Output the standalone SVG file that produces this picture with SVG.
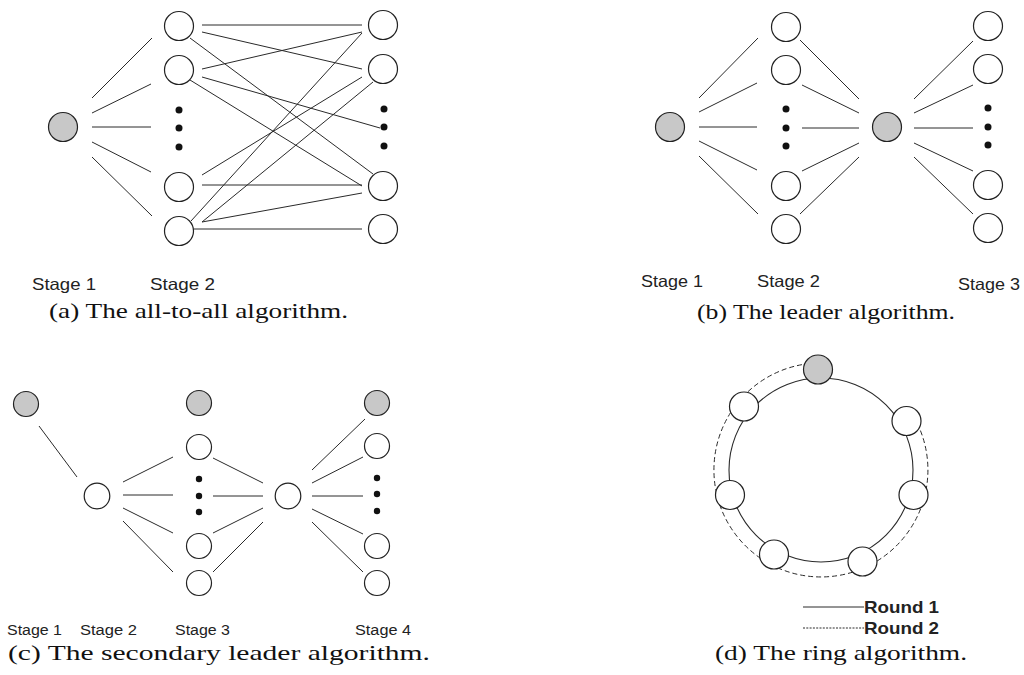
<svg xmlns="http://www.w3.org/2000/svg" width="1024" height="675" viewBox="0 0 1024 675">
  <style>
    .bg { fill: #ffffff; }
    .edge { stroke: #2a2a2a; stroke-width: 1; fill: none; }
    .node { fill: #ffffff; stroke: #222222; stroke-width: 1.2; }
    .lead { fill: #c8c8c8; stroke: #222222; stroke-width: 1.2; }
    .dot { fill: #111111; }
    .stage { font-family: "Liberation Sans", Arial, sans-serif; font-size: 16.5px; fill: #222222; }
    .stage-c { font-family: "Liberation Sans", Arial, sans-serif; font-size: 15.5px; fill: #222222; }
    .cap { font-family: "Liberation Serif", "Times New Roman", serif; font-size: 21px; fill: #111111; }
    .legend { font-family: "Liberation Sans", Arial, sans-serif; font-size: 16.5px; font-weight: bold; fill: #222222; }
    .ring-solid { stroke: #2a2a2a; stroke-width: 1.1; fill: none; }
    .ring-dash { stroke: #2a2a2a; stroke-width: 1; fill: none; stroke-dasharray: 5 3; }
    .legend-dot { stroke: #2a2a2a; stroke-width: 1; fill: none; stroke-dasharray: 2 1.3; }
  </style>
  <rect class="bg" x="0" y="0" width="1024" height="675"/>

  <!-- ===== (a) all-to-all ===== -->
  <g id="a-connectors">
    <line class="edge" x1="92" y1="98" x2="152" y2="38"/>
    <line class="edge" x1="92" y1="113" x2="151" y2="84"/>
    <line class="edge" x1="92" y1="127" x2="151" y2="127"/>
    <line class="edge" x1="92" y1="142" x2="151" y2="172"/>
    <line class="edge" x1="92" y1="157" x2="152" y2="216"/>

    <line class="edge" x1="202" y1="25" x2="362" y2="25"/>
    <line class="edge" x1="202" y1="32" x2="362" y2="69"/>
    <line class="edge" x1="190" y1="38" x2="373" y2="174"/>
    <line class="edge" x1="202" y1="69" x2="362" y2="32"/>
    <line class="edge" x1="202" y1="77" x2="380" y2="128"/>
    <line class="edge" x1="190" y1="80" x2="362" y2="186"/>
    <line class="edge" x1="202" y1="175" x2="362" y2="77"/>
    <line class="edge" x1="202" y1="185" x2="362" y2="185"/>
    <line class="edge" x1="191" y1="221" x2="362" y2="33"/>
    <line class="edge" x1="202" y1="222" x2="373" y2="82"/>
    <line class="edge" x1="202" y1="222" x2="362" y2="193"/>
    <line class="edge" x1="194" y1="229" x2="362" y2="229"/>
  </g>
  <g id="a-source"><circle class="lead" cx="63" cy="127" r="14.5"/></g>
  <g id="a-s2-1"><circle class="node" cx="179" cy="26" r="14.5"/></g>
  <g id="a-s2-2"><circle class="node" cx="179" cy="70" r="14.5"/></g>
  <g id="a-s2-dots">
    <circle class="dot" cx="179" cy="110" r="3.5"/>
    <circle class="dot" cx="179" cy="128" r="3.5"/>
    <circle class="dot" cx="179" cy="147" r="3.5"/>
  </g>
  <g id="a-s2-3"><circle class="node" cx="179" cy="187" r="14.5"/></g>
  <g id="a-s2-4"><circle class="node" cx="179" cy="231" r="14.5"/></g>
  <g id="a-s3-1"><circle class="node" cx="383" cy="25" r="14.5"/></g>
  <g id="a-s3-2"><circle class="node" cx="383" cy="69" r="14.5"/></g>
  <g id="a-s3-dots">
    <circle class="dot" cx="384" cy="109" r="3.5"/>
    <circle class="dot" cx="384" cy="127" r="3.5"/>
    <circle class="dot" cx="384" cy="146" r="3.5"/>
  </g>
  <g id="a-s3-3"><circle class="node" cx="383" cy="186" r="14.5"/></g>
  <g id="a-s3-4"><circle class="node" cx="383" cy="229" r="14.5"/></g>
  <g id="a-labels">
    <text class="stage" x="32" y="290" textLength="64" lengthAdjust="spacingAndGlyphs">Stage 1</text>
    <text class="stage" x="150" y="290" textLength="65" lengthAdjust="spacingAndGlyphs">Stage 2</text>
    <text class="cap" x="49" y="318" textLength="299" lengthAdjust="spacingAndGlyphs">(a) The all-to-all algorithm.</text>
  </g>

  <!-- ===== (b) leader ===== -->
  <g id="b-connectors">
    <line class="edge" x1="699" y1="98" x2="758" y2="38"/>
    <line class="edge" x1="699" y1="112" x2="757" y2="83"/>
    <line class="edge" x1="699" y1="127" x2="757" y2="127"/>
    <line class="edge" x1="699" y1="141" x2="757" y2="170"/>
    <line class="edge" x1="699" y1="156" x2="758" y2="214"/>

    <line class="edge" x1="800" y1="40" x2="859" y2="99"/>
    <line class="edge" x1="802" y1="85" x2="859" y2="113"/>
    <line class="edge" x1="802" y1="128" x2="859" y2="128"/>
    <line class="edge" x1="802" y1="171" x2="859" y2="143"/>
    <line class="edge" x1="800" y1="214" x2="859" y2="157"/>

    <line class="edge" x1="914" y1="99" x2="973" y2="41"/>
    <line class="edge" x1="914" y1="113" x2="973" y2="85"/>
    <line class="edge" x1="914" y1="128" x2="973" y2="128"/>
    <line class="edge" x1="914" y1="143" x2="973" y2="171"/>
    <line class="edge" x1="914" y1="157" x2="973" y2="214"/>
  </g>
  <g id="b-source"><circle class="lead" cx="670" cy="127" r="14.5"/></g>
  <g id="b-s2-1"><circle class="node" cx="786" cy="27" r="14.5"/></g>
  <g id="b-s2-2"><circle class="node" cx="786" cy="70" r="14.5"/></g>
  <g id="b-s2-dots">
    <circle class="dot" cx="786" cy="109" r="3.5"/>
    <circle class="dot" cx="786" cy="128" r="3.5"/>
    <circle class="dot" cx="786" cy="146" r="3.5"/>
  </g>
  <g id="b-s2-3"><circle class="node" cx="786" cy="186" r="14.5"/></g>
  <g id="b-s2-4"><circle class="node" cx="786" cy="229" r="14.5"/></g>
  <g id="b-leader"><circle class="lead" cx="887" cy="127" r="14.5"/></g>
  <g id="b-s3-1"><circle class="node" cx="988" cy="26" r="14.5"/></g>
  <g id="b-s3-2"><circle class="node" cx="988" cy="69" r="14.5"/></g>
  <g id="b-s3-dots">
    <circle class="dot" cx="988" cy="108" r="3.5"/>
    <circle class="dot" cx="988" cy="127" r="3.5"/>
    <circle class="dot" cx="988" cy="145" r="3.5"/>
  </g>
  <g id="b-s3-3"><circle class="node" cx="988" cy="185" r="14.5"/></g>
  <g id="b-s3-4"><circle class="node" cx="988" cy="228" r="14.5"/></g>
  <g id="b-labels">
    <text class="stage" x="641" y="287" textLength="62" lengthAdjust="spacingAndGlyphs">Stage 1</text>
    <text class="stage" x="757" y="287" textLength="63" lengthAdjust="spacingAndGlyphs">Stage 2</text>
    <text class="stage" x="958" y="290" textLength="62" lengthAdjust="spacingAndGlyphs">Stage 3</text>
    <text class="cap" x="697" y="319" textLength="258" lengthAdjust="spacingAndGlyphs">(b) The leader algorithm.</text>
  </g>

  <!-- ===== (c) secondary leader ===== -->
  <g id="c-connectors">
    <line class="edge" x1="39" y1="426" x2="77" y2="477"/>

    <line class="edge" x1="123" y1="482" x2="173" y2="457"/>
    <line class="edge" x1="123" y1="495" x2="173" y2="495"/>
    <line class="edge" x1="123" y1="508" x2="173" y2="533"/>
    <line class="edge" x1="123" y1="521" x2="173" y2="572"/>

    <line class="edge" x1="213" y1="458" x2="263" y2="483"/>
    <line class="edge" x1="213" y1="496" x2="263" y2="496"/>
    <line class="edge" x1="213" y1="533" x2="263" y2="508"/>
    <line class="edge" x1="213" y1="572" x2="263" y2="522"/>

    <line class="edge" x1="312" y1="470" x2="365" y2="419"/>
    <line class="edge" x1="312" y1="483" x2="363" y2="457"/>
    <line class="edge" x1="312" y1="496" x2="363" y2="496"/>
    <line class="edge" x1="312" y1="509" x2="363" y2="534"/>
    <line class="edge" x1="312" y1="522" x2="363" y2="572"/>
  </g>
  <g id="c-source"><circle class="lead" cx="26" cy="404" r="12.5"/></g>
  <g id="c-s2"><circle class="node" cx="97" cy="496" r="12.8"/></g>
  <g id="c-s3-lead"><circle class="lead" cx="199" cy="403" r="12.5"/></g>
  <g id="c-s3-1"><circle class="node" cx="199" cy="447" r="12.5"/></g>
  <g id="c-s3-dots">
    <circle class="dot" cx="199" cy="479" r="3.2"/>
    <circle class="dot" cx="199" cy="496" r="3.2"/>
    <circle class="dot" cx="199" cy="512" r="3.2"/>
  </g>
  <g id="c-s3-2"><circle class="node" cx="199" cy="546" r="12.5"/></g>
  <g id="c-s3-3"><circle class="node" cx="199" cy="583" r="12.5"/></g>
  <g id="c-mid"><circle class="node" cx="288" cy="496" r="12.8"/></g>
  <g id="c-s4-lead"><circle class="lead" cx="377" cy="403" r="12.5"/></g>
  <g id="c-s4-1"><circle class="node" cx="377" cy="446" r="12.5"/></g>
  <g id="c-s4-dots">
    <circle class="dot" cx="377" cy="478" r="3.2"/>
    <circle class="dot" cx="377" cy="494" r="3.2"/>
    <circle class="dot" cx="377" cy="511" r="3.2"/>
  </g>
  <g id="c-s4-2"><circle class="node" cx="377" cy="546" r="12.5"/></g>
  <g id="c-s4-3"><circle class="node" cx="377" cy="583" r="12.5"/></g>
  <g id="c-labels">
    <text class="stage-c" x="7" y="635" textLength="55" lengthAdjust="spacingAndGlyphs">Stage 1</text>
    <text class="stage-c" x="80" y="635" textLength="57" lengthAdjust="spacingAndGlyphs">Stage 2</text>
    <text class="stage-c" x="175" y="635" textLength="55" lengthAdjust="spacingAndGlyphs">Stage 3</text>
    <text class="stage-c" x="355" y="635" textLength="56" lengthAdjust="spacingAndGlyphs">Stage 4</text>
    <text class="cap" x="8" y="660" textLength="422" lengthAdjust="spacingAndGlyphs">(c) The secondary leader algorithm.</text>
  </g>

  <!-- ===== (d) ring ===== -->
  <g id="d-connectors">
    <circle class="ring-solid" cx="821" cy="470" r="92"/>
    <path class="ring-dash" d="M 817.8 363 A 107 107 0 1 0 913.9 417"/>
  </g>
  <g id="d-root"><circle class="lead" cx="818" cy="369.5" r="14.5"/></g>
  <g id="d-n1"><circle class="node" cx="744" cy="406.5" r="14.5"/></g>
  <g id="d-n2"><circle class="node" cx="906.5" cy="421" r="14.5"/></g>
  <g id="d-n3"><circle class="node" cx="730" cy="495" r="14.5"/></g>
  <g id="d-n4"><circle class="node" cx="913.5" cy="495" r="14.5"/></g>
  <g id="d-n5"><circle class="node" cx="774" cy="554.5" r="14.5"/></g>
  <g id="d-n6"><circle class="node" cx="862.5" cy="561.5" r="14.5"/></g>
  <g id="d-legend">
    <line class="edge" x1="803" y1="607" x2="864" y2="607"/>
    <line class="legend-dot" x1="803" y1="628" x2="864" y2="628"/>
    <text class="legend" x="864" y="613" textLength="75" lengthAdjust="spacingAndGlyphs">Round 1</text>
    <text class="legend" x="864" y="634" textLength="75" lengthAdjust="spacingAndGlyphs">Round 2</text>
  </g>
  <g id="d-labels">
    <text class="cap" x="715" y="660" textLength="252" lengthAdjust="spacingAndGlyphs">(d) The ring algorithm.</text>
  </g>
</svg>
